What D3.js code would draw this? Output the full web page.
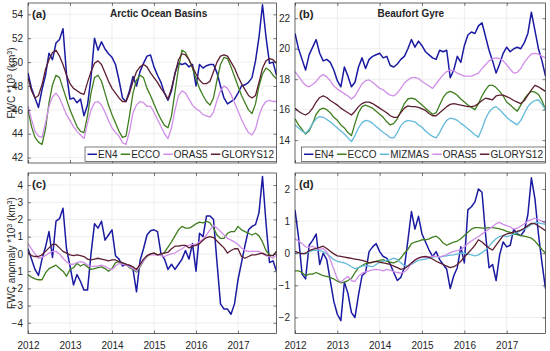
<!DOCTYPE html>
<html><head><meta charset="utf-8">
<script src="https://cdn.jsdelivr.net/npm/d3@7"></script>
<style>
body{margin:0;background:#fff;}
svg{display:block;}
text{font-family:"Liberation Sans",Arial,Helvetica,sans-serif;fill:#262626;}
</style>
</head><body>
<svg id="chart" width="550" height="351"></svg>
<script>
// ---------- DATA (monthly, Jan 2012 - Dec 2017) ----------
const startYear = 2012;
const yearTicks = [2012, 2013, 2014, 2015, 2016, 2017];
const ticksA = [42, 44, 46, 48, 50, 52, 54];
const ticksB = [14, 16, 18, 20, 22];
const ticksC = [-4, -3, -2, -1, 0, 1, 2, 3, 4];
const ticksD = [-2, -1, 0, 1, 2];

const EN4_a = [49.1,47.8,47.0,46.2,47.7,48.9,50.75,50.2,51.6,51.9,52.8,49.0,
 46.9,47.0,46.6,46.9,45.5,46.4,48.7,52.0,51.0,51.7,51.1,50.7,
 50.4,49.8,48.5,47.0,46.7,47.6,48.8,48.0,49.2,49.9,50.5,50.6,
 49.6,48.9,48.3,47.4,46.8,47.6,49.1,49.9,49.8,49.9,49.6,49.8,
 48.0,49.8,49.5,49.7,49.8,49.8,49.1,48.0,47.0,46.5,46.7,46.9,
 47.4,48.0,48.1,48.3,48.7,50.1,52.1,54.8,52.1,49.9,50.0,48.9];
const ECCO_a = [46.0,44.6,43.7,43.3,43.1,44.4,46.6,48.1,48.9,48.7,47.8,46.9,
 46.0,45.3,44.6,44.2,44.1,45.5,47.4,48.7,48.9,48.4,47.4,46.4,
 45.6,44.9,44.2,43.7,43.8,45.5,47.4,48.5,48.9,48.7,47.8,47.2,
 46.5,45.8,45.2,44.7,44.5,45.5,47.5,49.5,51.0,50.8,50.2,49.5,
 48.6,47.8,47.2,46.7,46.4,47.0,48.5,49.8,50.4,50.3,49.6,48.8,
 48.0,47.2,46.6,46.0,45.7,46.5,48.0,49.0,49.5,49.3,48.9,48.6];
const ORAS5_a = [46.3,45.2,44.2,43.8,43.7,44.9,46.3,47.1,47.4,47.0,46.3,45.6,
 45.1,44.6,44.2,43.9,43.6,44.9,46.0,46.6,46.7,46.4,45.8,45.1,
 44.5,44.1,43.8,43.25,43.1,44.2,45.75,46.4,46.7,46.6,46.3,46.3,
 45.8,45.2,44.6,44.0,43.6,44.5,46.0,47.2,47.6,47.4,46.9,46.4,
 46.1,45.9,45.6,45.5,45.4,45.8,46.8,47.6,48.0,47.8,47.3,46.6,
 45.9,45.2,44.6,44.1,43.9,44.4,45.5,46.3,46.7,46.8,46.7,46.7];
const GLORYS12_a = [48.7,47.6,47.0,47.2,48.1,49.4,50.2,50.8,51.0,50.5,49.8,48.9,
 48.2,47.8,47.6,47.4,47.3,48.3,49.2,49.9,50.1,49.8,49.1,48.4,
 47.8,47.4,47.0,46.7,46.7,47.4,48.4,49.2,49.6,49.8,49.6,49.1,
 48.7,48.3,47.8,47.4,46.9,47.8,49.0,50.2,50.7,50.6,50.2,49.6,
 49.0,48.5,48.2,48.2,48.4,49.2,50.0,50.5,50.6,50.5,50.0,49.5,
 48.8,48.2,47.7,47.2,47.0,47.2,48.3,49.5,50.1,50.3,50.2,49.9];

const EN4_b = [21.0,20.0,19.3,18.6,19.6,20.1,20.6,19.7,19.2,19.3,19.1,18.6,
 17.9,17.5,18.8,18.2,17.5,17.8,18.8,19.4,18.7,19.3,19.5,19.6,
 19.7,19.4,19.5,18.9,18.8,19.0,19.3,19.5,20.0,20.6,20.1,20.5,
 20.2,19.8,19.6,19.4,19.3,19.9,19.8,19.9,18.1,18.6,19.5,19.1,
 20.2,20.9,21.1,21.0,21.5,21.7,20.8,19.9,19.2,18.4,19.0,19.7,
 20.1,19.8,20.0,20.1,20.0,20.4,21.0,22.4,21.2,20.0,19.2,18.2];
const ECCO_b = [15.4,15.0,14.7,14.4,14.6,15.1,15.7,16.0,16.1,16.0,15.8,15.5,
 15.3,15.0,14.8,14.5,14.3,15.1,15.8,16.2,16.3,16.2,16.1,15.9,
 15.7,15.5,15.2,15.0,15.1,15.4,15.9,16.4,16.7,16.75,16.7,16.5,
 16.3,16.1,15.9,15.7,15.8,16.3,16.8,17.1,17.2,17.1,16.95,16.7,
 16.5,16.3,16.15,16.0,16.4,16.9,17.3,17.6,17.6,17.45,17.2,16.9,
 16.5,16.3,16.1,15.9,16.3,16.7,17.0,17.2,17.15,17.0,16.6,16.0];
const MIZMAS_b = [15.0,14.8,14.6,14.45,14.7,15.1,15.4,15.55,15.5,15.35,15.2,15.0,
 14.8,14.6,14.4,14.15,13.9,14.3,14.8,15.15,15.3,15.25,15.1,14.9,
 14.7,14.5,14.35,14.15,14.15,14.5,14.95,15.2,15.3,15.25,15.2,15.0,
 14.85,14.6,14.4,14.25,14.15,14.5,14.95,15.3,15.45,15.4,15.3,15.1,
 14.95,14.75,14.55,14.35,14.2,14.75,15.4,15.85,16.1,16.2,16.0,15.75,
 15.5,15.3,15.15,15.0,15.3,15.75,16.2,16.45,16.6,16.65,16.35,16.0];
const ORAS5_b = [18.5,18.2,17.85,17.6,17.5,17.65,17.85,18.15,18.3,18.15,17.9,17.55,
 17.35,17.2,17.05,16.9,16.7,16.9,17.3,17.7,17.9,17.95,17.8,17.6,
 17.4,17.3,17.1,16.95,16.9,17.1,17.4,17.75,17.95,18.1,18.1,18.05,
 17.85,17.7,17.55,17.4,17.7,18.0,18.3,18.5,18.6,18.55,18.4,18.3,
 18.2,18.2,18.2,18.3,18.4,18.7,18.95,19.2,19.35,19.4,19.35,19.2,
 18.95,18.65,18.4,18.45,18.7,19.1,19.4,19.65,19.7,19.65,19.5,19.4];
const GLORYS12_b = [16.1,15.9,15.75,15.65,15.8,16.1,16.5,16.8,16.9,16.8,16.6,16.45,
 16.3,16.1,15.95,15.8,15.65,15.9,16.2,16.4,16.5,16.5,16.4,16.25,
 16.1,15.95,15.8,15.6,15.5,15.5,15.8,16.1,16.25,16.2,16.2,16.15,
 16.05,15.95,15.75,15.6,15.6,15.8,16.0,16.2,16.35,16.4,16.35,16.3,
 16.25,16.2,16.2,16.25,16.4,16.6,16.75,16.7,16.65,16.9,16.95,16.95,
 16.85,16.75,16.6,16.5,16.4,16.6,16.95,17.3,17.6,17.5,17.35,17.2];

const EN4_c = [0.3,-0.3,-0.9,-1.25,-0.3,0.4,1.3,-0.2,1.9,2.05,2.65,0.3,
 -0.7,-1.8,-1.2,-1.6,-2.1,-2.1,0.0,1.75,1.5,1.9,0.8,1.1,
 1.4,-0.1,-0.3,-0.7,-0.6,-0.7,-0.9,-2.2,-0.4,0.3,1.1,1.35,
 1.4,1.3,0.0,-0.3,-0.9,-0.6,-0.9,-0.6,-0.3,0.2,-0.3,0.6,
 -1.0,1.2,1.0,2.2,2.2,2.0,-0.5,-2.9,-3.2,-3.2,-3.5,-2.9,
 -1.5,-0.5,0.5,1.4,1.6,1.7,2.4,4.5,1.8,-0.5,-0.4,-1.0];
const ECCO_c = [-1.2,-1.35,-1.45,-1.5,-1.5,-1.1,-0.85,-0.75,-0.65,-0.85,-1.0,-1.3,
 -0.9,-0.8,-0.55,-0.7,-0.6,-0.75,-0.9,-0.85,-0.8,-0.75,-0.85,-1.0,
 -0.85,-0.5,-0.45,-0.55,-0.6,-0.8,-0.9,-1.05,-0.75,-0.4,-0.15,0.0,
 0.05,-0.05,-0.05,0.1,0.4,0.7,1.05,1.4,1.6,1.5,1.5,1.6,
 1.75,1.85,1.8,1.9,1.8,1.5,1.1,0.9,0.9,1.2,1.3,1.3,
 1.6,1.4,1.3,1.2,1.1,1.2,1.05,0.7,0.2,-0.05,-0.1,0.15];
const ORAS5_c = [0.6,0.3,0.0,-0.25,-0.2,-0.1,0.05,0.15,0.15,0.0,-0.25,-0.45,
 -0.6,-0.6,-0.5,-0.45,-0.5,-0.65,-0.72,-0.72,-0.7,-0.65,-0.72,-0.85,
 -0.9,-0.7,-0.55,-0.6,-0.65,-0.75,-0.85,-1.0,-0.7,-0.4,-0.1,-0.05,
 -0.05,-0.05,-0.1,-0.15,-0.05,0.0,0.05,0.2,0.3,0.45,0.5,0.55,
 0.55,0.7,0.85,1.1,1.4,1.65,1.5,1.3,1.1,0.9,0.8,0.7,
 0.55,0.35,0.2,0.15,0.15,0.15,0.15,0.0,-0.1,-0.15,-0.25,-0.05];
const GLORYS12_c = [0.1,-0.1,-0.15,-0.15,-0.05,0.15,0.35,0.55,0.55,0.35,0.15,0.05,
 -0.05,-0.1,-0.05,-0.1,-0.15,-0.3,-0.35,-0.3,-0.25,-0.3,-0.35,-0.4,
 -0.35,-0.35,-0.45,-0.5,-0.6,-0.65,-0.75,-0.9,-0.6,-0.3,-0.1,0.0,
 0.05,-0.05,0.0,0.05,0.1,0.3,0.45,0.45,0.5,0.5,0.35,0.45,
 0.5,0.6,0.8,0.95,1.0,0.95,0.75,0.55,0.35,0.05,0.2,0.3,
 0.3,-0.15,-0.25,-0.15,-0.05,-0.05,0.0,0.05,-0.05,-0.1,-0.1,0.15];

const EN4_d = [1.35,0.5,-0.65,-0.8,0.25,0.4,0.6,-0.35,0.0,-0.2,-0.85,-1.5,
 -1.9,-2.1,-0.9,-1.25,-1.85,-2.0,-1.3,-0.7,-0.6,0.05,0.2,0.3,
 0.05,-0.1,-0.15,-0.35,-0.6,-0.85,-0.75,-0.45,0.4,1.3,0.75,1.15,
 0.6,0.35,0.1,-0.1,0.05,-0.2,-0.35,-0.5,-1.1,-0.7,-0.45,0.2,
 -0.3,1.35,1.45,1.6,2.0,1.9,0.6,-0.45,-0.35,-0.85,-0.05,0.35,
 0.2,0.25,0.75,0.6,0.55,0.7,1.2,2.35,1.7,0.6,-0.3,-1.1];
const ECCO_d = [-0.55,-0.55,-0.6,-0.7,-0.65,-0.65,-0.6,-0.65,-0.7,-0.72,-0.76,-0.8,
 -0.87,-0.92,-0.9,-0.85,-0.78,-0.6,-0.45,-0.38,-0.32,-0.3,-0.28,-0.25,
 -0.22,-0.2,-0.25,-0.28,-0.3,-0.25,-0.15,0.0,0.12,0.3,0.35,0.38,
 0.42,0.42,0.45,0.5,0.53,0.45,0.32,0.25,0.3,0.35,0.38,0.45,
 0.55,0.65,0.75,0.8,0.8,0.78,0.78,0.8,0.8,0.78,0.76,0.73,
 0.68,0.65,0.6,0.58,0.55,0.53,0.5,0.47,0.38,0.25,0.12,0.0];
const MIZMAS_d = [0.0,0.02,0.0,-0.02,0.05,0.08,0.1,0.08,0.05,-0.02,-0.1,-0.2,
 -0.25,-0.28,-0.3,-0.35,-0.42,-0.48,-0.45,-0.4,-0.38,-0.4,-0.42,-0.35,
 -0.28,-0.25,-0.22,-0.2,-0.15,-0.2,-0.3,-0.38,-0.4,-0.35,-0.28,-0.22,
 -0.2,-0.18,-0.15,-0.12,-0.1,-0.12,-0.1,-0.08,-0.06,-0.05,-0.02,0.0,
 0.0,-0.03,-0.05,-0.08,-0.05,0.02,0.1,0.22,0.35,0.45,0.52,0.55,
 0.52,0.55,0.6,0.65,0.7,0.75,0.82,0.9,0.95,0.95,0.92,0.9];
const ORAS5_d = [0.45,0.38,0.3,0.2,0.18,0.22,0.15,0.12,0.15,0.05,-0.2,-0.5,
 -0.8,-0.9,-0.8,-0.72,-0.85,-0.88,-0.72,-0.62,-0.58,-0.55,-0.52,-0.5,
 -0.52,-0.55,-0.5,-0.53,-0.57,-0.6,-0.62,-0.58,-0.48,-0.32,-0.2,-0.14,
 -0.12,-0.14,-0.11,-0.09,-0.1,-0.11,-0.08,-0.04,0.02,0.06,0.08,0.11,
 0.2,0.3,0.38,0.45,0.52,0.6,0.68,0.76,0.83,0.92,0.96,0.9,
 0.86,0.82,0.75,0.78,0.85,0.92,1.0,1.05,1.09,1.05,1.0,0.94];
const GLORYS12_d = [0.06,0.02,-0.02,0.0,0.08,0.12,0.15,0.18,0.22,0.15,0.06,-0.02,
 -0.08,-0.1,-0.12,-0.14,-0.16,-0.18,-0.2,-0.22,-0.25,-0.3,-0.28,-0.25,
 -0.28,-0.3,-0.32,-0.35,-0.4,-0.45,-0.5,-0.48,-0.4,-0.3,-0.22,-0.15,
 -0.11,-0.1,-0.13,-0.18,-0.25,-0.3,-0.35,-0.4,-0.45,-0.42,-0.35,-0.25,
 -0.12,0.0,0.12,0.25,0.42,0.35,0.25,0.16,0.1,0.25,0.4,0.55,
 0.6,0.63,0.66,0.68,0.72,0.78,0.86,0.93,0.92,0.85,0.78,0.7];

// ---------- STYLE ----------
const colors = {EN4:"#1a1aa2", ECCO:"#3f7f1f", MIZMAS:"#62b9d9", ORAS5:"#d08ee8", GLORYS12:"#5c1f30"};
const panels = [
  {id:"a", x0:28, x1:276.5, y0:3, y1:163, dom:[41.55,54.95], ticks:ticksA, xLabels:false,
   series:[["EN4",EN4_a],["ECCO",ECCO_a],["ORAS5",ORAS5_a],["GLORYS12",GLORYS12_a]],
   title:"Arctic Ocean Basins", titleX:110, legend:true},
  {id:"b", x0:295, x1:545.5, y0:3, y1:163, dom:[12.5,23], ticks:ticksB, xLabels:false,
   series:[["EN4",EN4_b],["ECCO",ECCO_b],["MIZMAS",MIZMAS_b],["ORAS5",ORAS5_b],["GLORYS12",GLORYS12_b]],
   title:"Beaufort Gyre", titleX:377.5, legend:true},
  {id:"c", x0:28, x1:276.5, y0:173, y1:333.5, dom:[-4.62,4.7], ticks:ticksC, xLabels:true,
   series:[["EN4",EN4_c],["ECCO",ECCO_c],["ORAS5",ORAS5_c],["GLORYS12",GLORYS12_c]]},
  {id:"d", x0:295, x1:545.5, y0:173, y1:333.5, dom:[-2.5,2.5], ticks:ticksD, xLabels:true,
   series:[["EN4",EN4_d],["ECCO",ECCO_d],["MIZMAS",MIZMAS_d],["ORAS5",ORAS5_d],["GLORYS12",GLORYS12_d]]}
];

const svg = d3.select("#chart");
const defs = svg.append("defs");
const axisColor = "#262626";

panels.forEach(p => {
  const x = d3.scaleLinear().domain([startYear, startYear + 71/12]).range([p.x0, p.x1]);
  const y = d3.scaleLinear().domain(p.dom).range([p.y1, p.y0]);
  const g = svg.append("g");

  defs.append("clipPath").attr("id","clip-"+p.id)
    .append("rect").attr("x",p.x0).attr("y",p.y0).attr("width",p.x1-p.x0).attr("height",p.y1-p.y0);

  // grid
  g.append("g").selectAll("line").data(yearTicks.slice(1)).join("line")
    .attr("x1",d=>x(d)).attr("x2",d=>x(d)).attr("y1",p.y0).attr("y2",p.y1)
    .attr("stroke","#e3e3e3").attr("stroke-width",0.6);
  g.append("g").selectAll("line").data(p.ticks).join("line")
    .attr("x1",p.x0).attr("x2",p.x1).attr("y1",d=>y(d)).attr("y2",d=>y(d))
    .attr("stroke","#e3e3e3").attr("stroke-width",0.6);

  // series
  const line = d3.line().x((d,i)=>x(startYear + i/12)).y(d=>y(d));
  const lg = g.append("g").attr("clip-path","url(#clip-"+p.id+")");
  p.series.forEach(([name, vals]) => {
    lg.append("path").datum(vals).attr("d", line)
      .attr("fill","none").attr("stroke",colors[name])
      .attr("stroke-width", name==="EN4" ? 1.5 : 1.3).attr("stroke-linejoin","round");
  });

  // axes (inward ticks, MATLAB box)
  const ax = g.append("g");
  const left = ax.append("g").attr("transform",`translate(${p.x0},0)`)
    .call(d3.axisLeft(y).tickValues(p.ticks).tickSize(-3).tickPadding(5).tickFormat(d3.format("d")));
  const right = ax.append("g").attr("transform",`translate(${p.x1},0)`)
    .call(d3.axisRight(y).tickValues(p.ticks).tickSize(-3).tickFormat(""));
  const bottom = ax.append("g").attr("transform",`translate(0,${p.y1})`)
    .call(d3.axisBottom(x).tickValues(yearTicks).tickSize(-3).tickPadding(8)
      .tickFormat(p.xLabels ? d3.format("d") : ""));
  const top = ax.append("g").attr("transform",`translate(0,${p.y0})`)
    .call(d3.axisTop(x).tickValues(yearTicks).tickSize(-3).tickFormat(""));
  ax.selectAll(".domain").remove();
  ax.selectAll(".tick line").attr("stroke",axisColor).attr("stroke-width",0.6);
  ax.selectAll(".tick text").attr("font-size",10).attr("fill",axisColor)
    .attr("font-family",'"Liberation Sans",Arial,sans-serif');
  g.append("rect").attr("x",p.x0).attr("y",p.y0).attr("width",p.x1-p.x0).attr("height",p.y1-p.y0)
    .attr("fill","none").attr("stroke",axisColor).attr("stroke-width",0.7);

  // panel label
  g.append("text").attr("x",p.x0+4).attr("y",p.y0+14.5).attr("font-size",11.5)
    .attr("font-weight","bold").attr("fill","#000").text("("+p.id+")");

  if (p.title) {
    g.append("text").attr("x",p.titleX).attr("y",p.y0+13.5).attr("font-size",10)
      .attr("font-weight","bold").attr("fill","#000").text(p.title);
  }

  if (p.legend) {
    const lgd = g.append("g");
    const box = lgd.append("rect").attr("fill","#fff").attr("stroke",axisColor).attr("stroke-width",0.6);
    let cx = 0;
    const items = [];
    p.series.forEach(([name]) => {
      const ln = lgd.append("line").attr("stroke",colors[name]).attr("stroke-width",1.5);
      const t = lgd.append("text").attr("font-size",10).attr("fill","#000").text(name);
      const w = t.node().getComputedTextLength();
      items.push({ln,t,w});
    });
    const lineLen = 9.5, gap1 = 1, gap2 = 3.2, pad = 2.5;
    let total = pad*2;
    items.forEach((it,i)=>{ total += lineLen + gap1 + it.w + (i<items.length-1?gap2:0); });
    const bx = p.x1 - total, by = p.y1 - 16, bh = 14.5;
    box.attr("x",bx).attr("y",by).attr("width",total).attr("height",bh);
    cx = bx + pad;
    items.forEach(it=>{
      it.ln.attr("x1",cx).attr("x2",cx+lineLen).attr("y1",by+bh/2).attr("y2",by+bh/2);
      it.t.attr("x",cx+lineLen+gap1).attr("y",by+bh/2+3.6);
      cx += lineLen + gap1 + it.w + gap2;
    });
  }
});

// y-axis labels
function yLabel(txt, cy) {
  const t = svg.append("text").attr("transform",`translate(14.5,${cy}) rotate(-90)`)
    .attr("text-anchor","middle").attr("font-size",10).attr("fill",axisColor);
  txt.forEach(([s,sup]) => {
    const ts = t.append("tspan").text(s);
    if (sup) ts.attr("baseline-shift","super").attr("font-size",7);
  });
}
yLabel([["FWC *10"],["3",true],[" (km"],["3",true],[")"]], 83);
yLabel([["FWC anomaly *10"],["3",true],[" (km"],["3",true],[")"]], 253);
</script>
</body></html>
